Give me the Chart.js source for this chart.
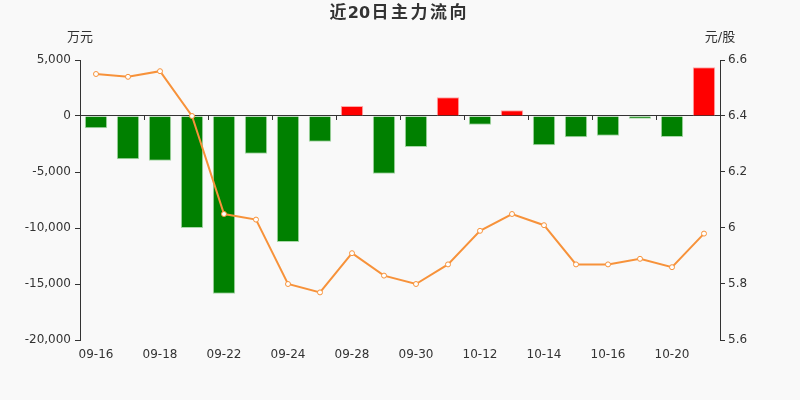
<!DOCTYPE html>
<html>
<head>
<meta charset="utf-8">
<script src="https://cdn.jsdelivr.net/npm/chart.js@4/dist/chart.umd.min.js"></script>
<style>
    html, body { margin: 0; padding: 0; background: #f9f9f9; }
    #wrap { width: 800px; height: 400px; }
</style>
</head>
<body>
<div id="wrap"><canvas id="flowChart" width="800" height="400"></canvas></div>
<script>
const dates = ['09-16', '09-17', '09-18', '09-21', '09-22', '09-23', '09-24', '09-25', '09-28', '09-29',
               '09-30', '10-09', '10-12', '10-13', '10-14', '10-15', '10-16', '10-19', '10-20', '10-21'];
// main capital net flow, 万元
const netFlow = [-1100, -3870, -3990, -10000, -15860, -3360, -11250, -2290, 890, -5150,
                 -2770, 1670, -775, 510, -2620, -1900, -1760, -240, -1875, 4350];
// closing price, 元/股
const price = [6.55, 6.54, 6.56, 6.40, 6.05, 6.03, 5.80, 5.77, 5.91, 5.83,
               5.80, 5.87, 5.99, 6.05, 6.01, 5.87, 5.87, 5.89, 5.86, 5.98];
const flowTicks = [-20000, 5000, 5000];
const priceTicks = [5.6, 6.6, 0.2];

const titleText = '近20日主力流向';
const textColor = '#333';
const fontFamily = '"DejaVu Sans", "Noto Sans CJK SC", sans-serif';

// title and the unit labels above the two value axes
const headerText = {
    id: 'headerText',
    afterDraw(chart) {
        const { ctx, scales } = chart;
        ctx.save();
        ctx.fillStyle = textColor;
        ctx.textBaseline = 'middle';

        // CJK glyphs get a wide cell, digits keep their own width
        const cjkCell = 19.5;
        const chars = Array.from(titleText);
        const isCjk = ch => ch.charCodeAt(0) > 0x2e80;
        ctx.font = 'bold 16px ' + fontFamily;
        const widths = chars.map(ch => isCjk(ch) ? cjkCell : ctx.measureText(ch).width);
        const total = widths.reduce((a, b) => a + b, 0);
        let x = chart.width / 2 - 2 - total / 2;
        chars.forEach((ch, i) => {
            ctx.font = 'bold ' + (isCjk(ch) ? 17 : 16) + 'px ' + fontFamily;
            ctx.textAlign = 'center';
            ctx.fillText(ch, x + widths[i] / 2, 14);
            x += widths[i];
        });

        ctx.font = '13px ' + fontFamily;
        ctx.textAlign = 'center';
        ctx.fillText('万元', scales.y.right, 38);
        ctx.fillText('元/股', scales.y1.left, 38);
        ctx.restore();
    }
};

const ctx = document.getElementById('flowChart').getContext('2d');

new Chart(ctx, {
    data: {
        labels: dates,
        datasets: [
            {
                type: 'line',
                label: '股价',
                data: price,
                yAxisID: 'y1',
                xAxisID: 'x',
                order: 0,
                borderColor: '#f7923a',
                borderWidth: 2,
                tension: 0,
                pointRadius: 2.5,
                pointBackgroundColor: '#ffffff',
                pointBorderColor: '#f7923a',
                pointBorderWidth: 1,
            },
            {
                type: 'bar',
                label: '主力净流入',
                data: netFlow,
                yAxisID: 'y',
                xAxisID: 'x',
                order: 1,
                backgroundColor: netFlow.map(v => v >= 0 ? '#ff0000' : '#008000'),
                borderColor: netFlow.map(v => v >= 0 ? '#ffa8a8' : '#a8d8a8'),
                borderWidth: 1,
                categoryPercentage: 1,
                barPercentage: 0.7,
            },
        ],
    },
    options: {
        responsive: false,
        animation: false,
        layout: { padding: { left: 0, right: 0, top: 60, bottom: 0 } },
        plugins: {
            legend: { display: false },
            tooltip: { enabled: false },
            title: { display: false },
        },
        scales: {
            x: {
                type: 'category',
                position: 'bottom',
                offset: true,
                border: { display: false },
                grid: { display: false, drawTicks: false },
                ticks: {
                    autoSkip: false,
                    maxRotation: 0,
                    padding: 8,
                    color: textColor,
                    font: { family: fontFamily, size: 12 },
                    callback: (val, i) => i % 2 === 0 ? dates[i] : '',
                },
                afterFit: scale => { scale.height = 60; },
            },
            xZero: {
                type: 'category',
                labels: dates,
                position: { y: 0 },
                offset: true,
                border: { display: true, color: textColor, width: 1 },
                grid: {
                    offset: true,
                    drawOnChartArea: false,
                    tickLength: 4,
                    color: c => c.index % 2 === 0 ? textColor : 'rgba(0,0,0,0)',
                },
                ticks: { display: false },
            },
            y: {
                position: 'left',
                min: flowTicks[0],
                max: flowTicks[1],
                border: { display: true, color: textColor },
                grid: { drawOnChartArea: false, color: textColor, tickLength: 5 },
                ticks: {
                    stepSize: flowTicks[2],
                    padding: 4,
                    color: textColor,
                    font: { family: fontFamily, size: 12 },
                    callback: v => v.toLocaleString('en-US'),
                },
                afterFit: scale => { scale.width = 80; },
            },
            y1: {
                position: 'right',
                min: priceTicks[0],
                max: priceTicks[1],
                border: { display: true, color: textColor },
                grid: { drawOnChartArea: false, color: textColor, tickLength: 5 },
                ticks: {
                    stepSize: priceTicks[2],
                    padding: 3,
                    color: textColor,
                    font: { family: fontFamily, size: 12 },
                    callback: v => String(+v.toFixed(1)),
                },
                afterFit: scale => { scale.width = 80; },
            },
        },
    },
    plugins: [headerText],
});
</script>
</body>
</html>
